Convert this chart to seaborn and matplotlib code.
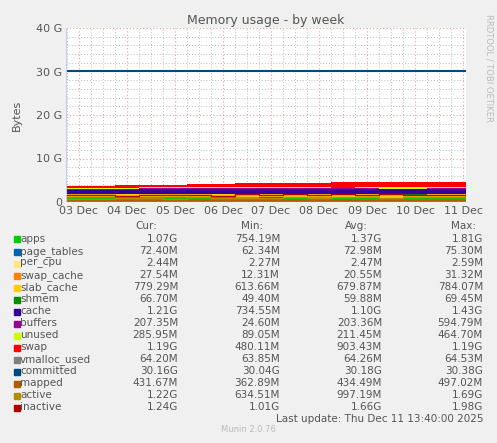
import numpy as np
import matplotlib
matplotlib.use("Agg")
import matplotlib.pyplot as plt
import seaborn as sns

# time points in days since 03 Dec 00:00
t = [-0.27, 0.25, 0.75, 1.25, 1.75, 2.25, 2.75, 3.25, 3.75, 4.25, 4.75,
     5.25, 5.75, 6.25, 6.75, 7.25, 7.75, 8.06]

# stacked series (GB)
apps = [1.15, 1.1, 1.05, 1.15, 1.1, 1.0, 1.05, 0.95, 1.0, 1.05, 0.95,
        0.9, 0.95, 0.9, 0.85, 0.9, 0.95, 1.07]
page_tables = [0.07] * 18
per_cpu = [0.0025] * 18
swap_cache = [0.02] * 18
slab_cache = [0.62, 0.63, 0.64, 0.65, 0.66, 0.67, 0.68, 0.69, 0.68, 0.7,
              0.7, 0.71, 0.72, 0.73, 0.74, 0.75, 0.77, 0.78]
shmem = [0.06] * 18
cache = [0.95, 0.98, 1.0, 1.02, 1.05, 1.1, 1.12, 1.15, 1.1, 1.12, 1.15,
         1.15, 1.1, 1.12, 1.15, 1.18, 1.2, 1.21]
buffers = [0.1, 0.15, 0.2, 0.25, 0.2, 0.3, 0.25, 0.2, 0.25, 0.2, 0.22,
           0.2, 0.22, 0.2, 0.2, 0.21, 0.2, 0.21]
unused = [0.3, 0.25, 0.28, 0.2, 0.25, 0.15, 0.2, 0.25, 0.22, 0.2, 0.25,
          0.22, 0.2, 0.25, 0.28, 0.22, 0.25, 0.29]
swap = [0.48, 0.48, 0.48, 0.48, 0.48, 0.7, 0.7, 0.9, 0.9, 0.9, 0.9,
        1.19, 1.19, 1.19, 1.19, 1.19, 1.19, 1.19]

# line series (GB)
vmalloc_used = [0.064] * 18
committed = [30.15, 30.18, 30.18, 30.16, 30.18, 30.2, 30.2, 30.18, 30.18, 30.17,
             30.18, 30.18, 30.18, 30.17, 30.18, 30.18, 30.17, 30.16]
mapped = [0.4, 0.42, 0.45, 0.43, 0.44, 0.46, 0.45, 0.43, 0.44, 0.42, 0.43,
          0.44, 0.45, 0.43, 0.42, 0.44, 0.43, 0.43]
active = [0.7, 0.8, 0.9, 0.85, 0.8, 1.1, 1.0, 0.9, 1.0, 1.1, 1.0,
          1.05, 1.1, 1.0, 1.05, 1.1, 1.2, 1.22]
inactive = [1.5, 1.6, 1.4, 1.7, 1.5, 1.6, 1.3, 1.8, 1.7, 1.8, 1.6,
            1.9, 1.7, 1.8, 1.7, 1.6, 1.5, 1.24]

names = ["apps", "page_tables", "per_cpu", "swap_cache", "slab_cache", "shmem",
         "cache", "buffers", "unused", "swap", "vmalloc_used", "committed",
         "mapped", "active", "inactive"]
colors = ["#00CC00", "#0066B3", "#FFE680", "#FF8000", "#FFCC00", "#008F00",
          "#330099", "#990099", "#CCFF00", "#FF0000", "#808080", "#00487D",
          "#B35A00", "#B38F00", "#B30000"]
cur = ["1.07G", "72.40M", "2.44M", "27.54M", "779.29M", "66.70M", "1.21G",
       "207.35M", "285.95M", "1.19G", "64.20M", "30.16G", "431.67M", "1.22G", "1.24G"]
mins = ["754.19M", "62.34M", "2.27M", "12.31M", "613.66M", "49.40M", "734.55M",
        "24.60M", "89.05M", "480.11M", "63.85M", "30.04G", "362.89M", "634.51M", "1.01G"]
avgs = ["1.37G", "72.98M", "2.47M", "20.55M", "679.87M", "59.88M", "1.10G",
        "203.36M", "211.45M", "903.43M", "64.26M", "30.18G", "434.49M", "997.19M", "1.66G"]
maxs = ["1.81G", "75.30M", "2.59M", "31.32M", "784.07M", "69.45M", "1.43G",
        "594.79M", "464.70M", "1.19G", "64.53M", "30.38G", "497.02M", "1.69G", "1.98G"]

day_labels = ["03 Dec", "04 Dec", "05 Dec", "06 Dec", "07 Dec", "08 Dec",
              "09 Dec", "10 Dec", "11 Dec"]

sns.set_style("white")
plt.rcParams["font.family"] = ["DejaVu Sans"]
txt = "#555555"

fig = plt.figure(figsize=(4.97, 4.43), dpi=100, facecolor="#F0F0F0")
ax = fig.add_axes([66 / 497, 1 - 202 / 443, 400 / 497, 174 / 443])
ax.set_facecolor("white")

stack = [apps, page_tables, per_cpu, swap_cache, slab_cache, shmem, cache,
         buffers, unused, swap]
ax.stackplot(t, *stack, colors=colors[:10], step="post", linewidth=0)

lines = [vmalloc_used, committed, mapped, active, inactive]
for vals, c in zip(lines, colors[10:]):
    sns.lineplot(x=t, y=vals, ax=ax, color=c, drawstyle="steps-post",
                 linewidth=1.5 if c == "#00487D" else 1.0, legend=False)

ax.set_xlim(-0.27, 8.06)
ax.set_ylim(0, 40)
ax.set_xticks(range(9))
ax.set_xticklabels(day_labels)
ax.set_yticks([0, 10, 20, 30, 40])
ax.set_yticklabels(["0", "10 G", "20 G", "30 G", "40 G"])
ax.set_xticks(np.arange(-0.25, 8.06, 0.25), minor=True)
ax.set_yticks(np.arange(0, 40, 2), minor=True)
ax.grid(which="minor", color="#BBBBBB", linestyle=(0, (1, 2)), linewidth=0.7)
ax.grid(which="major", color="#E8A0A0", linestyle=(0, (1, 2)), linewidth=0.8)
ax.tick_params(labelsize=8, colors=txt, length=0, pad=3)
for s in ax.spines.values():
    s.set_visible(False)
ax.axhline(0, color="#C8C8FF", linewidth=0.8)
ax.axvline(-0.27, color="#C8C8FF", linewidth=0.8)
ax.set_ylabel("Bytes", fontsize=8, color=txt, labelpad=10)
ax.set_title("Memory usage - by week", fontsize=9, color=txt, pad=3)

fig.text(489 / 497, 1 - 14 / 443, "RRDTOOL / TOBI OETIKER", rotation=270,
         fontsize=6, color="#BBBBBB", ha="center", va="top")

def fy(py):
    return 1 - py / 443

hdr_y = 226
for label, xr in [("Cur:", 157), ("Min:", 263), ("Avg:", 368), ("Max:", 476)]:
    fig.text(xr / 497, fy(hdr_y), label, fontsize=7.5, color=txt, ha="right", va="center")

for i, n in enumerate(names):
    y = 239.5 + 12 * i
    fig.patches.append(plt.Rectangle((14 / 497, fy(y + 3)), 6 / 497, 6 / 443,
                                     transform=fig.transFigure, color=colors[i]))
    fig.text(20 / 497, fy(y), n, fontsize=7.5, color=txt, ha="left", va="center")
    for col, xr in [(cur, 178), (mins, 280), (avgs, 382), (maxs, 483)]:
        fig.text(xr / 497, fy(y), col[i], fontsize=7.5, color=txt, ha="right", va="center")

fig.text(483 / 497, fy(419), "Last update: Thu Dec 11 13:40:00 2025",
         fontsize=7.5, color=txt, ha="right", va="center")
fig.text(248 / 497, fy(430), "Munin 2.0.76", fontsize=6, color="#BBBBBB",
         ha="center", va="center")

fig.savefig("out.png", dpi=100, facecolor=fig.get_facecolor())
